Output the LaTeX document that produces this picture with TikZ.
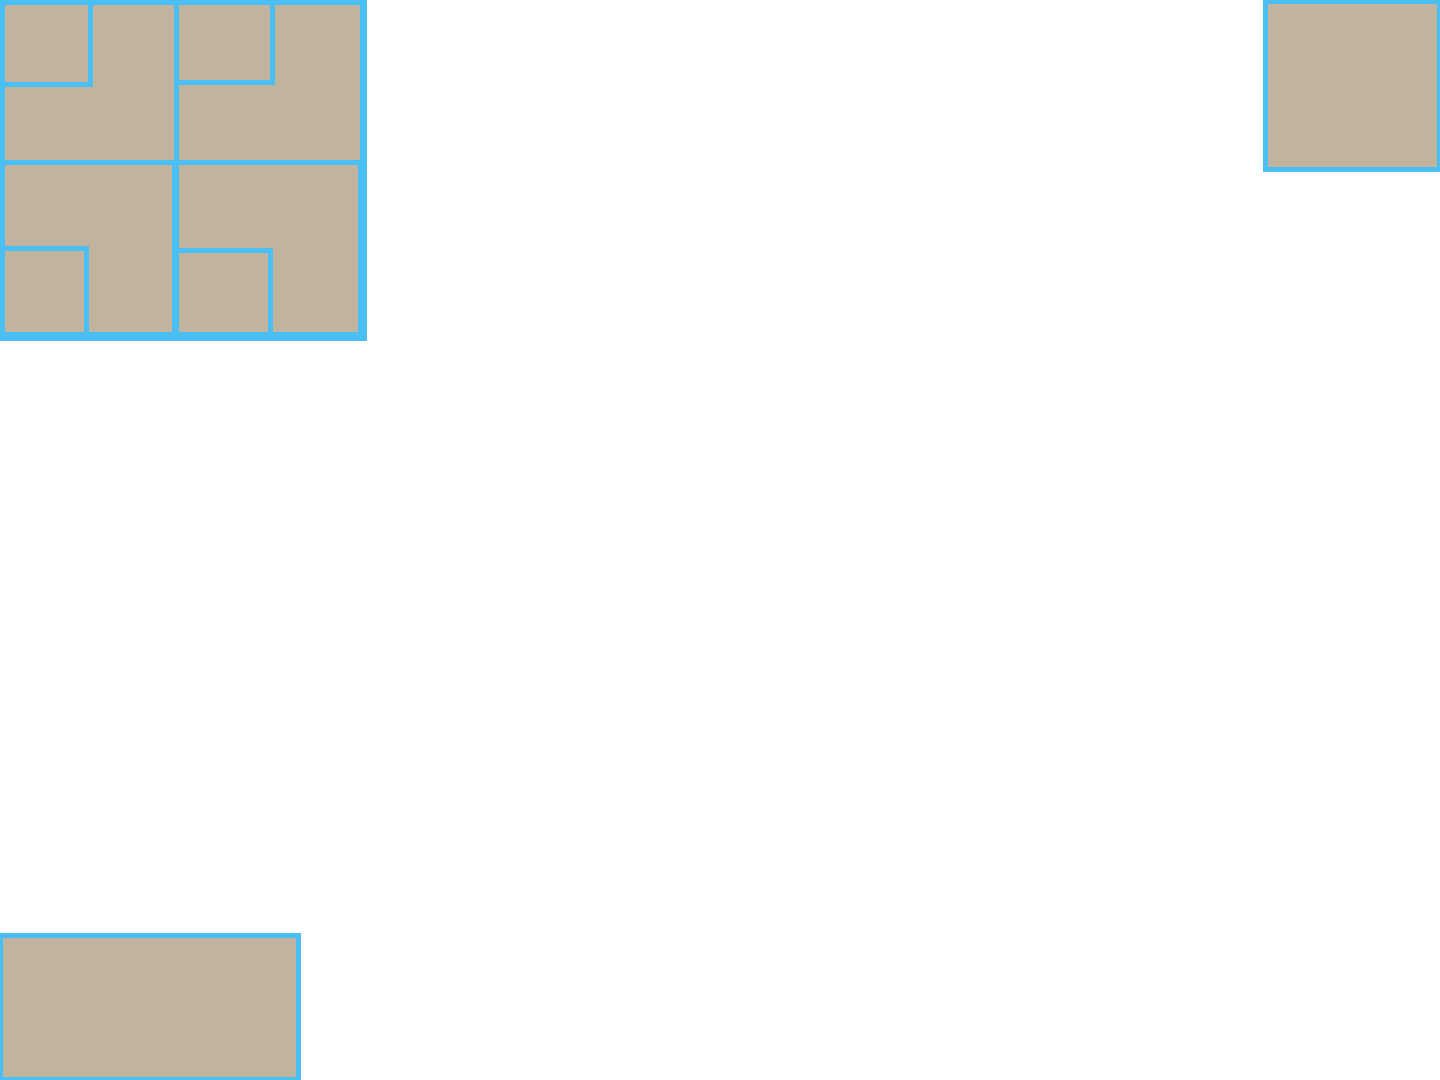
\documentclass[tikz,border=0pt]{standalone}
\definecolor{edgeblue}{RGB}{75,191,243}
\definecolor{roomtan}{RGB}{192,180,158}
\begin{document}
\begin{tikzpicture}[x=0.5pt,y=-0.5pt,
  wall/.style={fill=edgeblue},
  room/.style={fill=roomtan}]
\useasboundingbox (0,0) rectangle (1440,1080);
% top-left grid
\fill[wall] (0,0) rectangle (367,341);
\fill[room] (5,5) rectangle (174,160);
\fill[room] (179,5) rectangle (360,160);
\fill[room] (5,165) rectangle (172,332);
\fill[room] (179,165) rectangle (358,332);
% small rooms
\fill[wall] (5,5) rectangle (93,87);
\fill[room] (5,5) rectangle (88,82);
\fill[wall] (179,5) rectangle (275,85);
\fill[room] (179,5) rectangle (270,80);
\fill[wall] (5,246) rectangle (89,332);
\fill[room] (5,251) rectangle (84,332);
\fill[wall] (179,248) rectangle (273,332);
\fill[room] (179,253) rectangle (268,332);
% top-right box
\fill[wall] (1263,0) rectangle (1440,172);
\fill[room] (1268,4) rectangle (1437,167);
% bottom-left box
\fill[wall] (0,933) rectangle (301,1080);
\fill[room] (3,938) rectangle (296,1077);
\end{tikzpicture}
\end{document}
